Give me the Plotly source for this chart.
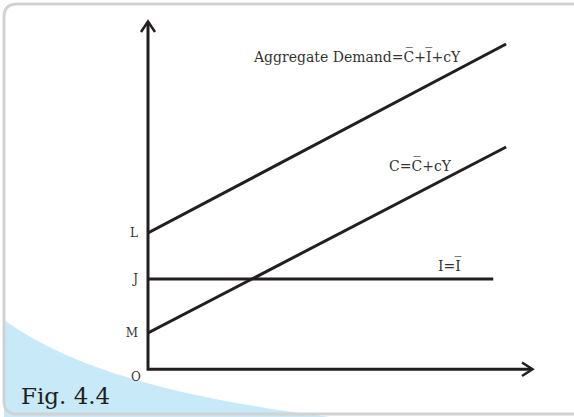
import plotly.graph_objects as go

# ---- data (income Y on x axis, expenditure on y axis; schematic units) ----
income_points = [0, 10]
consumption_values = [1.0, 6.17]          # C = C̄ + cY
aggregate_demand_values = [3.78, 9.03]    # AD = C̄ + Ī + cY
investment_income = [0, 9.64]
investment_values = [2.5, 2.5]            # I = Ī
tick_values = [1.0, 2.5, 3.78]
tick_labels = ["M", "J", "L"]

OB = "\u0305"  # combining overline
label_ad = "Aggregate Demand=C" + OB + "+I" + OB + "+cY"
label_c = "C=C" + OB + "+cY"
label_i = "I=I" + OB

# ---- layout geometry ----
W, H = 574, 417
ML, MR, MT, MB = 148, 41, 21, 48
PW, PH = W - ML - MR, H - MT - MB
X_MAX, Y_MAX = 10.75, 9.67

def px(x, y):
    return (x - ML) / PW, (H - MB - y) / PH

def path(points, cmds):
    out = []
    i = 0
    for c in cmds:
        if c == "Z":
            out.append("Z")
            continue
        n = {"M": 1, "L": 1, "Q": 2, "C": 3}[c]
        seg = []
        for _ in range(n):
            a, b = px(*points[i])
            seg.append(f"{a:.5f},{b:.5f}")
            i += 1
        out.append(c + " " + " ".join(seg))
    return " ".join(out)

INK = "#231f20"
SERIF = "DejaVu Serif"

fig = go.Figure()
line_style = dict(color=INK, width=3)
fig.add_trace(go.Scatter(x=income_points, y=aggregate_demand_values, mode="lines",
                         line=line_style, hoverinfo="skip"))
fig.add_trace(go.Scatter(x=income_points, y=consumption_values, mode="lines",
                         line=line_style, hoverinfo="skip"))
fig.add_trace(go.Scatter(x=investment_income, y=investment_values, mode="lines",
                         line=line_style, hoverinfo="skip"))

shapes = []
# blue swoosh
shapes.append(dict(type="path", xref="paper", yref="paper", layer="below",
                   path=path([(4, 320), (60, 360), (150, 395), (330, 417), (4, 417)],
                             ["M", "C", "L", "Z"]),
                   fillcolor="#c8e9f8", line=dict(width=0)))
# frame
shapes.append(dict(type="path", xref="paper", yref="paper", layer="below",
                   path=path([(4, 401), (4, 17), (4, 4), (17, 4), (600, 4), (600, 414),
                              (17, 414), (4, 414), (4, 401)],
                             ["M", "L", "Q", "L", "L", "L", "Q"]),
                   line=dict(color="#d2d2d2", width=3)))
# axes (paper-referenced so they are not clipped at the plot edge)
shapes.append(dict(type="path", xref="paper", yref="paper",
                   path=path([(148, 22), (148, 369.3), (532, 369.3)], ["M", "L", "L"]),
                   line=dict(color=INK, width=3)))
# arrow chevrons
shapes.append(dict(type="path", xref="paper", yref="paper",
                   path=path([(141, 32), (148, 21.5), (155, 32)], ["M", "L", "L"]),
                   line=dict(color=INK, width=2.5)))
shapes.append(dict(type="path", xref="paper", yref="paper",
                   path=path([(522, 362.5), (532.5, 369.3), (522, 376)], ["M", "L", "L"]),
                   line=dict(color=INK, width=2.5)))

ann = []
tf = dict(family=SERIF, size=14, color="#333333")
ann.append(dict(x=(357 - ML) / 35.8, y=(369 - 56) / 36, xref="x", yref="y", text=label_ad,
                showarrow=False, font=tf))
ann.append(dict(x=(420 - ML) / 35.8, y=(369 - 165) / 36, xref="x", yref="y", text=label_c,
                showarrow=False, font=tf))
ann.append(dict(x=(450 - ML) / 35.8, y=(369 - 265) / 36, xref="x", yref="y", text=label_i,
                showarrow=False, font=tf))
ox, oy = px(136, 377)
ann.append(dict(x=ox, y=oy, xref="paper", yref="paper", text="O", showarrow=False,
                xanchor="center", yanchor="middle",
                font=dict(family=SERIF, size=12, color="#333333")))
fx, fy = px(19, 396)
ann.append(dict(x=fx, y=fy, xref="paper", yref="paper", text="Fig. 4.4", showarrow=False,
                xanchor="left", yanchor="middle", font=dict(family=SERIF, size=23, color=INK)))

fig.update_layout(
    width=W, height=H, margin=dict(l=ML, r=MR, t=MT, b=MB),
    paper_bgcolor="white", plot_bgcolor="rgba(0,0,0,0)",
    showlegend=False, shapes=shapes, annotations=ann,
    xaxis=dict(range=[0, X_MAX], showgrid=False, zeroline=False, showticklabels=False,
               showline=False, fixedrange=True),
    yaxis=dict(range=[0, Y_MAX], showgrid=False, zeroline=False, showline=False,
               tickvals=tick_values, ticktext=tick_labels, ticks="",
               ticklabelstandoff=9,
               tickfont=dict(family=SERIF, size=12, color="#333333"), fixedrange=True),
)
fig.write_html("out.html", config={"displayModeBar": False},
               post_script="document.body.style.margin='0';document.body.style.overflow='hidden';")
